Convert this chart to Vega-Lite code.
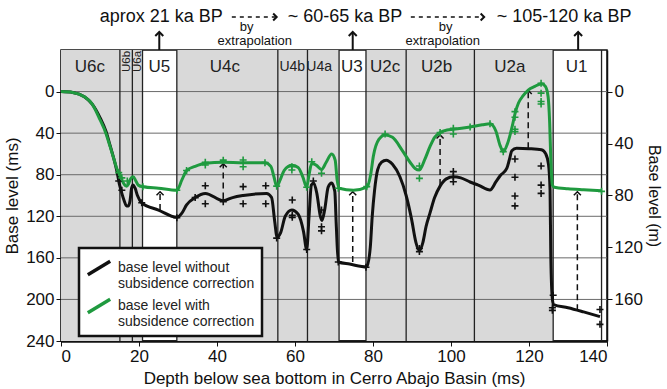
{
  "$schema": "https://vega.github.io/schema/vega-lite/v6.json",
  "width": 546,
  "height": 291,
  "autosize": {"type": "none"},
  "padding": {"left": 61, "top": 50, "right": 60, "bottom": 48},
  "background": "white",
  "config": {
    "font": "Liberation Sans",
    "view": {"stroke": "#111", "strokeWidth": 1.5},
    "axis": {"labelColor": "#111", "titleColor": "#111", "domainColor": "#111", "tickColor": "#111", "grid": false, "labelFontSize": 17, "titleFontSize": 17, "titleFontWeight": "normal"}
  },
  "datasets": {
    "bands": [{"x0": 0, "x1": 20.9}, {"x0": 29.7, "x1": 71.3}, {"x0": 78.2, "x1": 126.2}],
    "bounds": [{"x": 15.1}, {"x": 18.3}, {"x": 20.9}, {"x": 29.7}, {"x": 55.6}, {"x": 63.2}, {"x": 71.3}, {"x": 78.2}, {"x": 88.5}, {"x": 106}, {"x": 126.2}, {"x": 138.6}],
    "grid": [{"y": 0}, {"y": 40}, {"y": 80}, {"y": 120}, {"y": 160}, {"y": 200}],
    "units": [
      {"x": 7.4, "y": -24, "t": "U6c", "s": 17},
      {"x": 25.2, "y": -24, "t": "U5", "s": 17},
      {"x": 42, "y": -24, "t": "U4c", "s": 17},
      {"x": 59.3, "y": -24, "t": "U4b", "s": 14},
      {"x": 66.2, "y": -24, "t": "U4a", "s": 14},
      {"x": 74.6, "y": -24, "t": "U3", "s": 17},
      {"x": 83.1, "y": -24, "t": "U2c", "s": 17},
      {"x": 96.3, "y": -24, "t": "U2b", "s": 17},
      {"x": 115.1, "y": -24, "t": "U2a", "s": 17},
      {"x": 132.2, "y": -24, "t": "U1", "s": 17}
    ],
    "unitsRot": [{"x": 16.8, "y": -29, "t": "U6b"}, {"x": 19.7, "y": -29, "t": "U6a"}],
    "curves": [
      {"x": 0, "y": 0, "series": "without"}, {"x": 3, "y": 0.8, "series": "without"}, {"x": 6, "y": 5, "series": "without"}, {"x": 8, "y": 12, "series": "without"}, {"x": 10, "y": 25, "series": "without"}, {"x": 11.5, "y": 38, "series": "without"}, {"x": 12.6, "y": 52, "series": "without"}, {"x": 13.5, "y": 64, "series": "without"}, {"x": 14.3, "y": 76, "series": "without"}, {"x": 15.1, "y": 91, "series": "without"}, {"x": 15.6, "y": 98, "series": "without"}, {"x": 16.2, "y": 105, "series": "without"}, {"x": 16.8, "y": 110, "series": "without"}, {"x": 17.3, "y": 110, "series": "without"}, {"x": 17.7, "y": 105, "series": "without"}, {"x": 18.1, "y": 93, "series": "without"}, {"x": 18.5, "y": 90, "series": "without"}, {"x": 19.0, "y": 93, "series": "without"}, {"x": 19.6, "y": 100, "series": "without"}, {"x": 20.7, "y": 107, "series": "without"}, {"x": 25, "y": 114, "series": "without"}, {"x": 29.7, "y": 121, "series": "without"}, {"x": 31, "y": 117, "series": "without"}, {"x": 32.2, "y": 109, "series": "without"}, {"x": 34.4, "y": 102, "series": "without"}, {"x": 37, "y": 98, "series": "without"}, {"x": 41.6, "y": 105, "series": "without"}, {"x": 44, "y": 102, "series": "without"}, {"x": 46.7, "y": 100, "series": "without"}, {"x": 52.7, "y": 98, "series": "without"}, {"x": 54.0, "y": 102, "series": "without"}, {"x": 54.8, "y": 125, "series": "without"}, {"x": 55.4, "y": 140, "series": "without"}, {"x": 56.3, "y": 136, "series": "without"}, {"x": 57.5, "y": 120, "series": "without"}, {"x": 59.2, "y": 114, "series": "without"}, {"x": 60.8, "y": 118, "series": "without"}, {"x": 62.2, "y": 135, "series": "without"}, {"x": 63.0, "y": 152, "series": "without"}, {"x": 63.6, "y": 120, "series": "without"}, {"x": 64.2, "y": 90, "series": "without"}, {"x": 64.8, "y": 88, "series": "without"}, {"x": 65.6, "y": 98, "series": "without"}, {"x": 66.5, "y": 120, "series": "without"}, {"x": 66.9, "y": 124, "series": "without"}, {"x": 67.6, "y": 114, "series": "without"}, {"x": 68.5, "y": 92, "series": "without"}, {"x": 69.4, "y": 88, "series": "without"}, {"x": 70.2, "y": 96, "series": "without"}, {"x": 70.6, "y": 130, "series": "without"}, {"x": 71.1, "y": 164, "series": "without"}, {"x": 74, "y": 166, "series": "without"}, {"x": 78.4, "y": 168.7, "series": "without"}, {"x": 79.3, "y": 150, "series": "without"}, {"x": 79.8, "y": 120, "series": "without"}, {"x": 80.4, "y": 95, "series": "without"}, {"x": 81.2, "y": 75, "series": "without"}, {"x": 82.2, "y": 68, "series": "without"}, {"x": 83.4, "y": 66, "series": "without"}, {"x": 85, "y": 70, "series": "without"}, {"x": 86.9, "y": 82, "series": "without"}, {"x": 88.5, "y": 100, "series": "without"}, {"x": 89.9, "y": 123, "series": "without"}, {"x": 91, "y": 145, "series": "without"}, {"x": 91.9, "y": 153, "series": "without"}, {"x": 92.8, "y": 145, "series": "without"}, {"x": 93.6, "y": 130, "series": "without"}, {"x": 94.6, "y": 117, "series": "without"}, {"x": 95.8, "y": 102, "series": "without"}, {"x": 97.2, "y": 91, "series": "without"}, {"x": 98.8, "y": 84, "series": "without"}, {"x": 100.6, "y": 82, "series": "without"}, {"x": 102.5, "y": 83, "series": "without"}, {"x": 104.9, "y": 87, "series": "without"}, {"x": 107, "y": 90, "series": "without"}, {"x": 110, "y": 94.7, "series": "without"}, {"x": 111.5, "y": 87, "series": "without"}, {"x": 112.6, "y": 81, "series": "without"}, {"x": 114.3, "y": 74, "series": "without"}, {"x": 115, "y": 65, "series": "without"}, {"x": 115.6, "y": 57, "series": "without"}, {"x": 116.8, "y": 54.6, "series": "without"}, {"x": 120, "y": 55, "series": "without"}, {"x": 123.2, "y": 56, "series": "without"}, {"x": 124.3, "y": 60, "series": "without"}, {"x": 125, "y": 70, "series": "without"}, {"x": 125.4, "y": 95, "series": "without"}, {"x": 125.6, "y": 160, "series": "without"}, {"x": 126, "y": 200, "series": "without"}, {"x": 126.3, "y": 205, "series": "without"}, {"x": 130, "y": 208, "series": "without"}, {"x": 134, "y": 212, "series": "without"}, {"x": 138.2, "y": 216.5, "series": "without"},
      {"x": 0, "y": 0, "series": "with"}, {"x": 3, "y": 0.8, "series": "with"}, {"x": 6, "y": 5, "series": "with"}, {"x": 8, "y": 12, "series": "with"}, {"x": 10, "y": 27, "series": "with"}, {"x": 11.5, "y": 40, "series": "with"}, {"x": 12.6, "y": 53, "series": "with"}, {"x": 13.5, "y": 64, "series": "with"}, {"x": 14.3, "y": 74, "series": "with"}, {"x": 15.1, "y": 80, "series": "with"}, {"x": 16, "y": 88, "series": "with"}, {"x": 16.8, "y": 91, "series": "with"}, {"x": 17.3, "y": 89, "series": "with"}, {"x": 17.7, "y": 85, "series": "with"}, {"x": 18.5, "y": 82, "series": "with"}, {"x": 19.2, "y": 86, "series": "with"}, {"x": 19.8, "y": 90, "series": "with"}, {"x": 21.1, "y": 91.5, "series": "with"}, {"x": 25, "y": 93, "series": "with"}, {"x": 29.7, "y": 95, "series": "with"}, {"x": 31, "y": 85, "series": "with"}, {"x": 32.2, "y": 76, "series": "with"}, {"x": 34.4, "y": 72, "series": "with"}, {"x": 37, "y": 69, "series": "with"}, {"x": 41.6, "y": 68, "series": "with"}, {"x": 46.7, "y": 68.5, "series": "with"}, {"x": 52.3, "y": 68.4, "series": "with"}, {"x": 53.8, "y": 72, "series": "with"}, {"x": 54.6, "y": 82, "series": "with"}, {"x": 55.3, "y": 91, "series": "with"}, {"x": 56.2, "y": 85, "series": "with"}, {"x": 57.2, "y": 76, "series": "with"}, {"x": 59.2, "y": 71, "series": "with"}, {"x": 60.8, "y": 73, "series": "with"}, {"x": 62.0, "y": 82, "series": "with"}, {"x": 63.0, "y": 92, "series": "with"}, {"x": 63.6, "y": 80, "series": "with"}, {"x": 64.3, "y": 69, "series": "with"}, {"x": 65.5, "y": 71, "series": "with"}, {"x": 66.8, "y": 75, "series": "with"}, {"x": 68, "y": 68, "series": "with"}, {"x": 69.4, "y": 60, "series": "with"}, {"x": 70.3, "y": 66, "series": "with"}, {"x": 70.8, "y": 85, "series": "with"}, {"x": 71.3, "y": 93, "series": "with"}, {"x": 75, "y": 95, "series": "with"}, {"x": 78.4, "y": 92, "series": "with"}, {"x": 79.4, "y": 80, "series": "with"}, {"x": 80.1, "y": 62, "series": "with"}, {"x": 81.5, "y": 46, "series": "with"}, {"x": 83.1, "y": 41.7, "series": "with"}, {"x": 85, "y": 44, "series": "with"}, {"x": 87.4, "y": 56, "series": "with"}, {"x": 89.5, "y": 68, "series": "with"}, {"x": 90.8, "y": 74, "series": "with"}, {"x": 91.9, "y": 75.5, "series": "with"}, {"x": 93.2, "y": 66, "series": "with"}, {"x": 94.6, "y": 53, "series": "with"}, {"x": 95.8, "y": 44, "series": "with"}, {"x": 97.2, "y": 39.5, "series": "with"}, {"x": 99, "y": 37, "series": "with"}, {"x": 100.6, "y": 36.3, "series": "with"}, {"x": 104.9, "y": 34, "series": "with"}, {"x": 108, "y": 32, "series": "with"}, {"x": 110, "y": 31, "series": "with"}, {"x": 111.5, "y": 38, "series": "with"}, {"x": 112.6, "y": 52, "series": "with"}, {"x": 113.4, "y": 57.8, "series": "with"}, {"x": 114.5, "y": 50, "series": "with"}, {"x": 115.6, "y": 35, "series": "with"}, {"x": 116.5, "y": 20, "series": "with"}, {"x": 117.3, "y": 11, "series": "with"}, {"x": 118.5, "y": 4, "series": "with"}, {"x": 119.8, "y": -1.5, "series": "with"}, {"x": 121.5, "y": -5, "series": "with"}, {"x": 123.2, "y": -7.5, "series": "with"}, {"x": 124.2, "y": -5, "series": "with"}, {"x": 124.9, "y": 5, "series": "with"}, {"x": 125.3, "y": 30, "series": "with"}, {"x": 125.6, "y": 66, "series": "with"}, {"x": 126, "y": 90, "series": "with"}, {"x": 126.5, "y": 92, "series": "with"}, {"x": 130, "y": 93.5, "series": "with"}, {"x": 134, "y": 94.5, "series": "with"}, {"x": 138.6, "y": 95.5, "series": "with"}
    ],
    "plusBlack": [
      {"x": 14.8, "y": 86}, {"x": 15.6, "y": 95}, {"x": 20.7, "y": 107}, {"x": 29.7, "y": 121.4}, {"x": 34.4, "y": 102}, {"x": 37, "y": 90.6}, {"x": 37, "y": 108}, {"x": 41.6, "y": 106}, {"x": 46.7, "y": 91.5}, {"x": 46.7, "y": 108}, {"x": 52.5, "y": 90.6}, {"x": 52.5, "y": 108}, {"x": 55.3, "y": 141}, {"x": 59.3, "y": 104.4}, {"x": 59.3, "y": 119}, {"x": 59.3, "y": 121}, {"x": 63, "y": 152}, {"x": 64.7, "y": 86}, {"x": 66.8, "y": 114}, {"x": 66.8, "y": 130}, {"x": 66.8, "y": 134}, {"x": 71.1, "y": 164}, {"x": 78.2, "y": 169}, {"x": 91.9, "y": 151}, {"x": 91.9, "y": 154}, {"x": 100.6, "y": 77}, {"x": 100.6, "y": 82}, {"x": 100.6, "y": 86.7}, {"x": 116.4, "y": 64.9}, {"x": 116.4, "y": 82.5}, {"x": 116.4, "y": 100.5}, {"x": 116.4, "y": 110}, {"x": 123.1, "y": 71.6}, {"x": 123.1, "y": 90}, {"x": 123.1, "y": 98}, {"x": 126.2, "y": 196}, {"x": 126, "y": 208}, {"x": 126, "y": 210.5}, {"x": 138.2, "y": 209.7}, {"x": 138.2, "y": 224}
    ],
    "plusGreen": [
      {"x": 14.8, "y": 78}, {"x": 15.6, "y": 83}, {"x": 17, "y": 86}, {"x": 21, "y": 91.5}, {"x": 29.7, "y": 95}, {"x": 32.2, "y": 76}, {"x": 37, "y": 70.6}, {"x": 37, "y": 68}, {"x": 41.6, "y": 66}, {"x": 46.7, "y": 65.8}, {"x": 46.7, "y": 72.3}, {"x": 52.3, "y": 68.4}, {"x": 55.3, "y": 91}, {"x": 59.2, "y": 72.3}, {"x": 59.2, "y": 75.5}, {"x": 63, "y": 92}, {"x": 64.3, "y": 67.5}, {"x": 66.8, "y": 78.6}, {"x": 71.1, "y": 93}, {"x": 78.4, "y": 91.5}, {"x": 83.1, "y": 40.8}, {"x": 91.9, "y": 71.6}, {"x": 91.9, "y": 83.5}, {"x": 97.2, "y": 39.5}, {"x": 100.6, "y": 35.3}, {"x": 100.6, "y": 40.8}, {"x": 104.9, "y": 34}, {"x": 110, "y": 31}, {"x": 113.4, "y": 57.8}, {"x": 116.4, "y": 19.3}, {"x": 116.4, "y": 24.7}, {"x": 116.4, "y": 36.3}, {"x": 116.4, "y": 38.5}, {"x": 123.1, "y": -8}, {"x": 123.1, "y": 1.5}, {"x": 123.1, "y": 9.6}, {"x": 123.1, "y": 11.9}, {"x": 138.6, "y": 96}
    ],
    "arrows": [
      {"x": 25.4, "y": 114, "y2": 96.4}, {"x": 41.6, "y": 103, "y2": 69.5}, {"x": 74.8, "y": 164, "y2": 96.4}, {"x": 97.2, "y": 90, "y2": 41.7}, {"x": 119.8, "y": 54.6, "y2": -1}, {"x": 132.4, "y": 210.4, "y2": 96.4}
    ],
    "topArrows": [{"x": 25.2, "y": -40, "y2": -57.3}, {"x": 74.8, "y": -40, "y2": -57.3}, {"x": 132.6, "y": -40, "y2": -57.3}],
    "topDash": [{"x": 43.8, "x2": 55.3, "y": -71.8}, {"x": 89.7, "x2": 108.5, "y": -71.8}],
    "topText": [
      {"x": 25.7, "y": -71.8, "t": "aprox 21 ka BP", "s": 18},
      {"x": 72.8, "y": -71.8, "t": "~ 60-65 ka BP", "s": 18},
      {"x": 129, "y": -71.8, "t": "~ 105-120 ka BP", "s": 18},
      {"x": 47.6, "y": -62.3, "t": "by", "s": 13},
      {"x": 49.7, "y": -48.3, "t": "extrapolation", "s": 13},
      {"x": 98.6, "y": -62.3, "t": "by", "s": 13},
      {"x": 97.9, "y": -48.3, "t": "extrapolation", "s": 13}
    ],
    "rightAxis": [{"m": 0}, {"m": 160}]
  },
  "resolve": {"scale": {"y": "independent"}, "axis": {"y": "independent"}},
  "layer": [
    {
      "layer": [
        {
          "data": {"name": "bands"},
          "mark": {"type": "rect", "fill": "#d9d9d9"},
          "encoding": {
            "x": {"field": "x0", "type": "quantitative", "scale": {"domain": [0, 140], "nice": false, "zero": false},
              "axis": {"values": [0, 20, 40, 60, 80, 100, 120, 140], "title": "Depth below sea bottom in Cerro Abajo Basin (ms)", "domainWidth": 2.5, "tickSize": 5, "labelPadding": 2, "titlePadding": 6}},
            "x2": {"field": "x1"}
          }
        },
        {
          "data": {"name": "grid"},
          "mark": {"type": "rule", "stroke": "#6a6a6a", "strokeWidth": 1},
          "encoding": {
            "y": {"field": "y", "type": "quantitative", "scale": {"domain": [-40, 240], "reverse": true, "nice": false, "zero": false},
              "axis": {"orient": "left", "values": [0, 40, 80, 120, 160, 200, 240], "title": "Base level (ms)", "domainWidth": 1.5, "tickSize": 5, "labelPadding": 2, "titlePadding": 4}}
          }
        },
        {
          "data": {"name": "bounds"},
          "mark": {"type": "rule", "stroke": "#222", "strokeWidth": 1.3},
          "encoding": {
            "x": {"field": "x", "type": "quantitative", "scale": {"domain": [0, 140], "nice": false, "zero": false}}
          }
        },
        {
          "data": {"name": "units"},
          "mark": {"type": "text", "color": "#222", "baseline": "middle"},
          "encoding": {
            "x": {"field": "x", "type": "quantitative", "scale": {"domain": [0, 140], "nice": false, "zero": false}},
            "y": {"field": "y", "type": "quantitative", "scale": {"domain": [-40, 240], "reverse": true, "nice": false, "zero": false}},
            "text": {"field": "t"},
            "size": {"field": "s", "type": "quantitative", "scale": null}
          }
        },
        {
          "data": {"name": "unitsRot"},
          "mark": {"type": "text", "color": "#222", "baseline": "middle", "angle": 270, "fontSize": 11.5},
          "encoding": {
            "x": {"field": "x", "type": "quantitative", "scale": {"domain": [0, 140], "nice": false, "zero": false}},
            "y": {"field": "y", "type": "quantitative", "scale": {"domain": [-40, 240], "reverse": true, "nice": false, "zero": false}},
            "text": {"field": "t"}
          }
        },
        {
          "data": {"name": "arrows"},
          "mark": {"type": "rule", "stroke": "#111", "strokeWidth": 1.5, "strokeDash": [6, 4]},
          "encoding": {
            "x": {"field": "x", "type": "quantitative", "scale": {"domain": [0, 140], "nice": false, "zero": false}},
            "y": {"field": "y", "type": "quantitative", "scale": {"domain": [-40, 240], "reverse": true, "nice": false, "zero": false}},
            "y2": {"field": "y2"}
          }
        },
        {
          "data": {"name": "arrows"},
          "mark": {"type": "point", "shape": "M-1,1L0,0L1,1", "filled": false, "stroke": "#111", "strokeWidth": 1.5, "size": 50, "opacity": 1},
          "encoding": {
            "x": {"field": "x", "type": "quantitative", "scale": {"domain": [0, 140], "nice": false, "zero": false}},
            "y": {"field": "y2", "type": "quantitative", "scale": {"domain": [-40, 240], "reverse": true, "nice": false, "zero": false}}
          }
        },
        {
          "data": {"name": "curves"},
          "mark": {"type": "line", "strokeWidth": 3, "interpolate": "monotone"},
          "encoding": {
            "x": {"field": "x", "type": "quantitative", "scale": {"domain": [0, 140], "nice": false, "zero": false}},
            "y": {"field": "y", "type": "quantitative", "scale": {"domain": [-40, 240], "reverse": true, "nice": false, "zero": false}},
            "color": {"field": "series", "type": "nominal",
              "scale": {"domain": ["without", "with"], "range": ["#111111", "#1f9a3f"]},
              "legend": {"orient": "none", "legendX": 18, "legendY": 198, "title": null,
                "symbolType": "M-1,0.6L1,-0.6", "symbolSize": 500, "symbolStrokeWidth": 3.5,
                "labelFontSize": 14, "labelColor": "#222", "labelLimit": 300,
                "labelExpr": "datum.value == 'without' ? ['base level without', 'subsidence correction'] : ['base level with', 'subsidence correction']",
                "fillColor": "white", "strokeColor": "#111", "padding": 7, "rowPadding": 1, "labelOffset": 6,
                "encode": {"legend": {"update": {"strokeWidth": {"value": 2.5}}}}}
            }
          }
        },
        {
          "data": {"name": "plusBlack"},
          "mark": {"type": "point", "shape": "M-1,0L1,0M0,-1L0,1", "filled": false, "stroke": "#111", "strokeWidth": 1.6, "size": 49, "opacity": 1},
          "encoding": {
            "x": {"field": "x", "type": "quantitative", "scale": {"domain": [0, 140], "nice": false, "zero": false}},
            "y": {"field": "y", "type": "quantitative", "scale": {"domain": [-40, 240], "reverse": true, "nice": false, "zero": false}}
          }
        },
        {
          "data": {"name": "plusGreen"},
          "mark": {"type": "point", "shape": "M-1,0L1,0M0,-1L0,1", "filled": false, "stroke": "#1f9a3f", "strokeWidth": 1.6, "size": 49, "opacity": 1},
          "encoding": {
            "x": {"field": "x", "type": "quantitative", "scale": {"domain": [0, 140], "nice": false, "zero": false}},
            "y": {"field": "y", "type": "quantitative", "scale": {"domain": [-40, 240], "reverse": true, "nice": false, "zero": false}}
          }
        },
        {
          "data": {"name": "topArrows"},
          "mark": {"type": "rule", "stroke": "#111", "strokeWidth": 2},
          "encoding": {
            "x": {"field": "x", "type": "quantitative", "scale": {"domain": [0, 140], "nice": false, "zero": false}},
            "y": {"field": "y", "type": "quantitative", "scale": {"domain": [-40, 240], "reverse": true, "nice": false, "zero": false}},
            "y2": {"field": "y2"}
          }
        },
        {
          "data": {"name": "topArrows"},
          "mark": {"type": "point", "shape": "M-1,1L0,0L1,1", "filled": false, "stroke": "#111", "strokeWidth": 2, "size": 64, "opacity": 1},
          "encoding": {
            "x": {"field": "x", "type": "quantitative", "scale": {"domain": [0, 140], "nice": false, "zero": false}},
            "y": {"field": "y2", "type": "quantitative", "scale": {"domain": [-40, 240], "reverse": true, "nice": false, "zero": false}}
          }
        },
        {
          "data": {"name": "topDash"},
          "mark": {"type": "rule", "stroke": "#111", "strokeWidth": 1.5, "strokeDash": [4, 4]},
          "encoding": {
            "x": {"field": "x", "type": "quantitative", "scale": {"domain": [0, 140], "nice": false, "zero": false}},
            "x2": {"field": "x2"},
            "y": {"field": "y", "type": "quantitative", "scale": {"domain": [-40, 240], "reverse": true, "nice": false, "zero": false}}
          }
        },
        {
          "data": {"name": "topDash"},
          "mark": {"type": "point", "shape": "M-1,-1L0,0L-1,1", "filled": false, "stroke": "#111", "strokeWidth": 2, "size": 49, "opacity": 1},
          "encoding": {
            "x": {"field": "x2", "type": "quantitative", "scale": {"domain": [0, 140], "nice": false, "zero": false}},
            "y": {"field": "y", "type": "quantitative", "scale": {"domain": [-40, 240], "reverse": true, "nice": false, "zero": false}}
          }
        },
        {
          "data": {"name": "topText"},
          "mark": {"type": "text", "color": "#111", "baseline": "middle"},
          "encoding": {
            "x": {"field": "x", "type": "quantitative", "scale": {"domain": [0, 140], "nice": false, "zero": false}},
            "y": {"field": "y", "type": "quantitative", "scale": {"domain": [-40, 240], "reverse": true, "nice": false, "zero": false}},
            "text": {"field": "t"},
            "size": {"field": "s", "type": "quantitative", "scale": null}
          }
        }
      ]
    },
    {
      "data": {"name": "rightAxis"},
      "mark": {"type": "point", "opacity": 0},
      "encoding": {
        "y": {"field": "m", "type": "quantitative", "scale": {"domain": [-32.1, 192.2], "reverse": true, "nice": false, "zero": false},
          "axis": {"orient": "right", "values": [0, 40, 80, 120, 160], "title": "Base level (m)", "titleAngle": 90, "titleFontSize": 16, "domainWidth": 1.5, "tickSize": 5, "labelPadding": 2, "titlePadding": 3}}
      }
    }
  ]
}
